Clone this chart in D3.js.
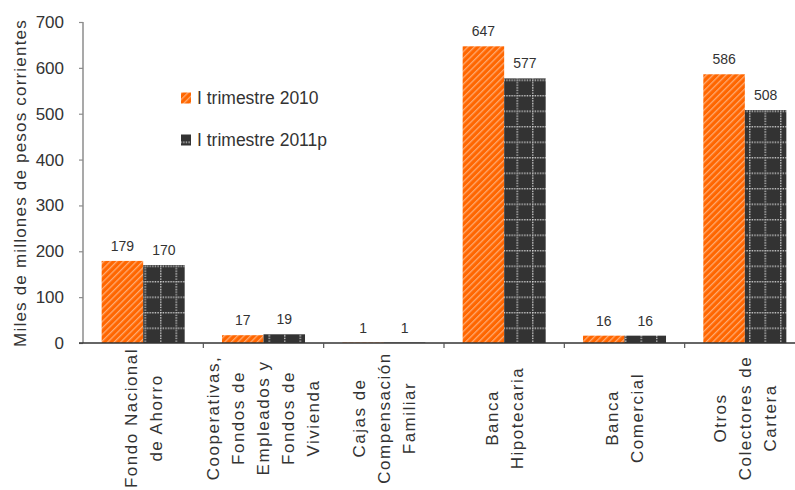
<!DOCTYPE html>
<html>
<head>
<meta charset="utf-8">
<script src="https://cdn.jsdelivr.net/npm/d3@7"></script>
<style>
html,body{margin:0;padding:0;background:#fff;}
svg{display:block;}
text{font-family:"Liberation Sans",Arial,sans-serif;}
</style>
</head>
<body>
<svg id="chart" width="795" height="490"></svg>
<script>
const categories = [
  ["Fondo Nacional", "de Ahorro"],
  ["Cooperativas,", "Fondos de", "Empleados y", "Fondos de", "Vivienda"],
  ["Cajas de", "Compensación", "Familiar"],
  ["Banca", "Hipotecaria"],
  ["Banca", "Comercial"],
  ["Otros", "Colectores de", "Cartera"]
];
const seriesNames = ["I trimestre 2010", "I trimestre 2011p"];
const values2010 = [179, 17, 1, 647, 16, 586];
const values2011 = [170, 19, 1, 577, 16, 508];
const yTicks = [0, 100, 200, 300, 400, 500, 600, 700];
const yTitle = "Miles de millones de pesos corrientes";

const FONT = "Liberation Sans, Arial, sans-serif";
const svg = d3.select("#chart");
const defs = svg.append("defs");

// orange diagonal hatch
const p1 = defs.append("pattern").attr("id", "pOrange")
  .attr("patternUnits", "userSpaceOnUse").attr("width", 4.6).attr("height", 10)
  .attr("patternTransform", "rotate(45)");
p1.append("rect").attr("width", 4.6).attr("height", 10).attr("fill", "#FF6600");
p1.append("rect").attr("x", 0).attr("width", 1.3).attr("height", 10).attr("fill", "#FFAA70");

// dark dotted grid
const p2 = defs.append("pattern").attr("id", "pDark")
  .attr("patternUnits", "userSpaceOnUse").attr("width", 15.5).attr("height", 15.5)
  .attr("x", 5).attr("y", 2);
p2.append("rect").attr("width", 15.5).attr("height", 15.5).attr("fill", "#333333");
p2.append("line").attr("x1", 0).attr("x2", 15.5).attr("y1", 0.75).attr("y2", 0.75)
  .attr("stroke", "#d0d0d0").attr("stroke-width", 1.4).attr("stroke-dasharray", "1.3,1.3");
p2.append("line").attr("y1", 0).attr("y2", 15.5).attr("x1", 0.75).attr("x2", 0.75)
  .attr("stroke", "#d0d0d0").attr("stroke-width", 1.4).attr("stroke-dasharray", "1.3,1.3");

const fills = ["url(#pOrange)", "url(#pDark)"];

const x0 = 83, x1 = 805, yTop = 22, yBot = 343;
const idx = d3.range(categories.length);
const x = d3.scaleBand().domain(idx).range([x0, x1]).paddingInner(0.31).paddingOuter(0.155);
const xs = d3.scaleBand().domain([0, 1]).range([0, x.bandwidth()]);
const y = d3.scaleLinear().domain([0, 700]).range([yBot, yTop]);

const textColor = "#333333";

// bars
const series = [values2010, values2011];
series.forEach((vals, si) => {
  svg.append("g").selectAll("rect").data(vals).join("rect")
    .attr("x", (d, i) => x(i) + xs(si))
    .attr("y", d => y(d))
    .attr("width", xs.bandwidth())
    .attr("height", d => yBot - y(d))
    .attr("fill", fills[si]);
  svg.append("g").selectAll("text").data(vals).join("text")
    .attr("x", (d, i) => x(i) + xs(si) + xs.bandwidth() / 2)
    .attr("y", d => y(d) - 10)
    .attr("text-anchor", "middle")
    .attr("font-family", FONT)
    .attr("font-size", 14)
    .attr("fill", textColor)
    .text(d => d);
});

// y axis
const yAxis = d3.axisLeft(y).tickValues(yTicks).tickSize(4).tickPadding(15);
const gy = svg.append("g").attr("transform", `translate(${x0},0)`).call(yAxis)
  .attr("font-family", FONT);
gy.select(".domain").attr("stroke", "#8c8c8c").attr("stroke-width", 1.5)
  .attr("d", `M0,${yTop}V${yBot}`);
gy.selectAll(".tick line").attr("stroke", "#8c8c8c").attr("stroke-width", 1.2);
gy.selectAll(".tick text").attr("font-size", 17).attr("fill", textColor)
  .attr("font-family", FONT);

// x axis
const boundaries = d3.range(categories.length + 1).map(i => x0 + i * x.step());
const gx = svg.append("g");
gx.append("line").attr("x1", x0 - 4).attr("x2", x1).attr("y1", yBot).attr("y2", yBot)
  .attr("stroke", "#333").attr("stroke-width", 1.5);
gx.selectAll("line.t").data(boundaries.slice(1)).join("line").attr("class", "t")
  .attr("x1", d => d).attr("x2", d => d).attr("y1", yBot).attr("y2", yBot + 5)
  .attr("stroke", "#555").attr("stroke-width", 1.2);

// category labels (rotated)
const lineGap = 25;
categories.forEach((lines, i) => {
  const cx = x(i) + x.bandwidth() / 2;
  const g = svg.append("g").attr("transform", `translate(${cx},418) rotate(-90)`);
  lines.forEach((ln, j) => {
    g.append("text")
      .attr("x", 0)
      .attr("y", (j - (lines.length - 1) / 2) * lineGap)
      .attr("dy", "0.35em")
      .attr("text-anchor", "middle")
      .attr("font-family", FONT)
      .attr("font-size", 17)
      .attr("letter-spacing", 1.5)
      .attr("fill", textColor)
      .text(ln);
  });
});

// y title
svg.append("text")
  .attr("transform", "translate(20,183) rotate(-90)")
  .attr("text-anchor", "middle")
  .attr("dy", "0.35em")
  .attr("font-family", FONT)
  .attr("font-size", 17)
  .attr("letter-spacing", 1.2)
  .attr("fill", textColor)
  .text(yTitle);

// legend
const legend = svg.append("g");
seriesNames.forEach((name, i) => {
  const ly = 98 + i * 42;
  legend.append("rect").attr("x", 181).attr("y", ly - 5.5).attr("width", 10).attr("height", 11)
    .attr("fill", fills[i]);
  legend.append("text").attr("x", 197).attr("y", ly).attr("dy", "0.35em")
    .attr("font-family", FONT)
    .attr("font-size", 17.5).attr("fill", textColor).text(name);
});
</script>
</body>
</html>
